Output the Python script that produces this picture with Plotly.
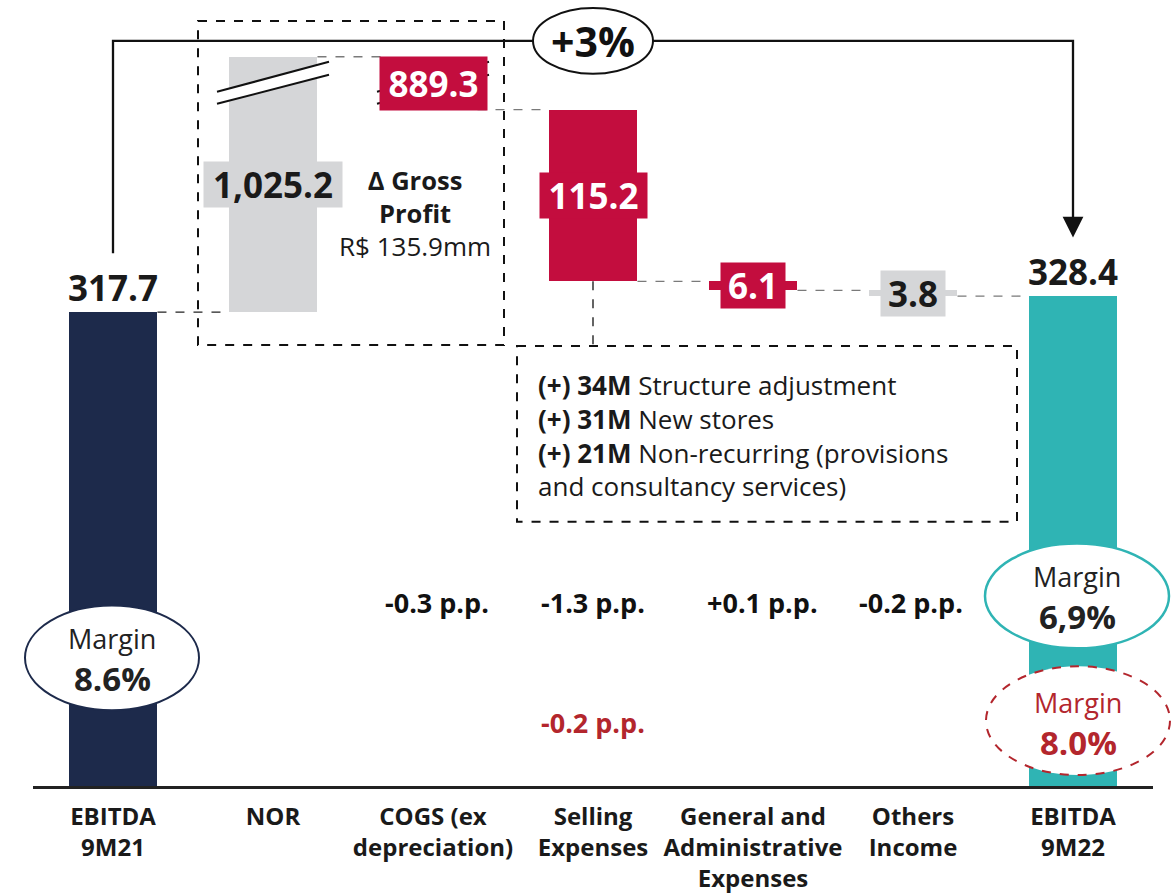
import plotly.graph_objects as go

# ---------------- data ----------------
categories = ["EBITDA<br>9M21", "NOR", "COGS (ex<br>depreciation)", "Selling<br>Expenses",
              "General and<br>Administrative<br>Expenses", "Others<br>Income", "EBITDA<br>9M22"]
ebitda_start = 317.7
ebitda_end = 328.4
step_values = [1025.2, -889.3, -115.2, -6.1, -3.8]          # NOR, COGS, Selling, G&A, Others
step_labels = ["1,025.2", "889.3", "115.2", "6.1", "3.8"]
margin_pp = ["-0.3 p.p.", "-1.3 p.p.", "+0.1 p.p.", "-0.2 p.p."]   # COGS .. Others
margin_pp_adjusted = "-0.2 p.p."
margin_start = "8.6%"
margin_end = "6,9%"
margin_end_adjusted = "8.0%"
growth_label = "+3%"
gross_profit_label = "R$ 135.9mm"
selling_notes = [("(+) 34M", "Structure adjustment"),
                 ("(+) 31M", "New stores"),
                 ("(+) 21M", "Non-recurring (provisions"),
                 ("", "and consultancy services)")]

# ---------------- styling ----------------
NAVY = "#1d2a4b"
TEAL = "#2fb4b4"
RED = "#c30d3e"
GREY = "#d5d6d8"
DARKRED = "#b3262d"
TEXT = "#1a1a1a"
FONT = "Open Sans"

W, H = 1173, 894
ML, MR, MT, MB = 33, 20, 0, 106
PW, PH = W - ML - MR, H - MT - MB
XMIN, XMAX = -0.5, 6.5
PX_PER_UNIT = 1.4951
YMAX = PH / PX_PER_UNIT
BAR_W = 0.556

def px_x(px):
    return XMIN + (px - ML) * (XMAX - XMIN) / PW

def px_y(py):
    return YMAX * (1 - (py - MT) / PH)

def paper_x(px):
    return (px - ML) / PW

def paper_y(py):
    return 1 - (py - MT) / PH

# broken value axis: everything above BREAK_FROM is compressed so the peak lands at BREAK_TOP
levels = [ebitda_start]
for d in step_values:
    levels.append(levels[-1] + d)
peak = max(levels)
BREAK_FROM, BREAK_TOP = 460.0, 489.0

def disp(v):
    if v <= BREAK_FROM:
        return v
    return BREAK_FROM + (v - BREAK_FROM) * (BREAK_TOP - BREAK_FROM) / (peak - BREAK_FROM)

bases, heights = [0.0], [disp(ebitda_start)]
for k in range(len(step_values)):
    lo, hi = sorted((levels[k], levels[k + 1]))
    bases.append(disp(lo))
    heights.append(disp(hi) - disp(lo))
bases.append(0.0)
heights.append(disp(ebitda_end))
colors = [NAVY, GREY, RED, RED, RED, GREY, TEAL]
xs = list(range(len(categories)))

fig = go.Figure(go.Bar(x=xs, y=heights, base=bases, width=BAR_W,
                       marker=dict(color=colors, line=dict(width=0)),
                       hoverinfo="skip"))

shapes, annos = [], []

# connectors between consecutive bars
conn_levels = [ebitda_start] + levels[1:]
for j in range(len(categories) - 1):
    y = disp(conn_levels[j])
    shapes.append(dict(type="line", xref="x", yref="y",
                       x0=j + BAR_W / 2, x1=j + 1 - BAR_W / 2, y0=y, y1=y,
                       line=dict(color="#222" if j == 0 else "#7a7a7a", width=1.3, dash="dash")))

# axis-break marks on NOR and COGS bars
for c in (1, 2):
    xl, xr = c - 0.35, c + 0.35
    shapes.append(dict(type="path", xref="x", yref="y", layer="above",
                       path=f"M{xl},{px_y(92)} L{xr},{px_y(62)} L{xr},{px_y(75)} L{xl},{px_y(104)} Z",
                       fillcolor="white", line=dict(width=0)))
    for a, b in ((92, 62), (104, 75)):
        shapes.append(dict(type="line", xref="x", yref="y", layer="above",
                           x0=xl, y0=px_y(a), x1=xr, y1=px_y(b),
                           line=dict(color="#111", width=2)))

# value labels on the step bars
box_w = [138, 107, 107, 64, 64]
box_h = [45, 53, 45, 45, 45]
box_bg = [GREY, RED, RED, RED, GREY]
box_fg = [TEXT, "white", "white", "white", TEXT]
for k, lab in enumerate(step_labels):
    ymid = bases[k + 1] + heights[k + 1] / 2
    annos.append(dict(x=k + 1, y=ymid, xref="x", yref="y", text=f"<b>{lab}</b>",
                      showarrow=False, width=box_w[k], height=box_h[k], borderpad=0,
                      bgcolor=box_bg[k], font=dict(size=35, color=box_fg[k], family=FONT),
                      align="center", valign="middle"))

# totals above first and last bars
for x, v in ((0, ebitda_start), (len(categories) - 1, ebitda_end)):
    annos.append(dict(x=x, y=disp(v), xref="x", yref="y", text=f"<b>{v:.1f}</b>",
                      showarrow=False, yshift=25, yanchor="middle",
                      font=dict(size=35, color=TEXT, family=FONT)))

# dashed frame around the gross-profit steps
shapes.append(dict(type="rect", xref="x", yref="y",
                   x0=px_x(198), x1=px_x(504), y0=px_y(21), y1=px_y(346),
                   line=dict(color="#111", width=2, dash="dash")))
annos.append(dict(x=px_x(415), y=px_y(214), xref="x", yref="y",
                  text=f"<b>Δ Gross<br>Profit</b><br><span style='font-size:26px'>{gross_profit_label}</span>",
                  showarrow=False, align="center", yanchor="middle",
                  font=dict(size=25.5, color=TEXT, family=FONT)))

# selling expenses breakdown note
shapes.append(dict(type="line", xref="x", yref="y", x0=3, x1=3,
                   y0=disp(levels[3]), y1=px_y(347),
                   line=dict(color="#111", width=1.3, dash="dash")))
shapes.append(dict(type="rect", xref="x", yref="y",
                   x0=px_x(517), x1=px_x(1017), y0=px_y(347), y1=px_y(523),
                   line=dict(color="#111", width=2, dash="dash")))
note_text = "<br>".join((f"<b>{bold}</b> " if bold else "") + rest for bold, rest in selling_notes)
annos.append(dict(x=px_x(536), y=px_y(436.5), xref="x", yref="y", text=note_text,
                  xanchor="left", yanchor="middle", align="left", showarrow=False,
                  font=dict(size=26, color=TEXT, family=FONT)))

# growth bracket with arrow
top_y = px_y(41)
shapes.append(dict(type="path", xref="x", yref="y", layer="above",
                   path=f"M0,{px_y(254)} L0,{top_y} L6,{top_y} L6,{px_y(226)}",
                   line=dict(color="#111", width=2.3)))
annos.append(dict(x=6, y=px_y(238), ax=6, ay=px_y(222), xref="x", yref="y",
                  axref="x", ayref="y", text="", showarrow=True,
                  arrowhead=2, arrowsize=1.8, arrowwidth=2.3, arrowcolor="#111"))
shapes.append(dict(type="circle", xref="x", yref="y", layer="above",
                   x0=3 - 0.375, x1=3 + 0.375, y0=px_y(74), y1=px_y(8),
                   fillcolor="white", line=dict(color="#111", width=2)))
annos.append(dict(x=3, y=top_y, xref="x", yref="y", text=f"<b>{growth_label}</b>",
                  showarrow=False, font=dict(size=41, color="#111", family=FONT)))

# margin change per step
pp_shift = [4, 0, 9, -2]
for k, lab in enumerate(margin_pp):
    annos.append(dict(x=k + 2, y=px_y(604), xref="x", yref="y", text=f"<b>{lab}</b>",
                      xshift=pp_shift[k], showarrow=False,
                      font=dict(size=27, color="#111", family=FONT)))
annos.append(dict(x=3, y=px_y(724), xref="x", yref="y", text=f"<b>{margin_pp_adjusted}</b>",
                  showarrow=False, font=dict(size=27, color=DARKRED, family=FONT)))

# margin bubbles
def bubble(cx_px, y_top, y_bot, half_w_px, color, dash, word_color, value, y_word, width):
    shapes.append(dict(type="circle", xref="paper", yref="paper", layer="above",
                       x0=paper_x(cx_px - half_w_px), x1=paper_x(cx_px + half_w_px),
                       y0=paper_y(y_bot), y1=paper_y(y_top), fillcolor="white",
                       line=dict(color=color, width=width, dash=dash)))
    annos.append(dict(x=paper_x(cx_px), y=paper_y(y_word), xref="paper", yref="paper",
                      xanchor="center", yanchor="middle", text="Margin", showarrow=False,
                      font=dict(size=27, color=word_color, family=FONT)))
    annos.append(dict(x=paper_x(cx_px), y=paper_y(y_word + 40), xref="paper", yref="paper",
                      xanchor="center", yanchor="middle", text=f"<b>{value}</b>",
                      showarrow=False, font=dict(size=33, color=word_color, family=FONT)))

bubble(112, 607, 712, 87, NAVY, "solid", "#222", margin_start, 640, 2)
bubble(1077, 545, 650, 92, TEAL, "solid", "#222", margin_end, 578, 2.5)
bubble(1078, 668, 777, 92, DARKRED, "dash", DARKRED, margin_end_adjusted, 704, 2)

fig.update_layout(
    width=W, height=H, margin=dict(l=ML, r=MR, t=MT, b=MB),
    paper_bgcolor="white", plot_bgcolor="white",
    font=dict(family=FONT, color=TEXT),
    showlegend=False, bargap=0,
    shapes=shapes, annotations=annos,
    xaxis=dict(range=[XMIN, XMAX], tickmode="array", tickvals=xs,
               ticktext=[f"<b>{c}</b>" for c in categories],
               tickfont=dict(size=24, color=TEXT, family=FONT),
               showline=True, linecolor="#222", linewidth=2.5, ticks="",
               ticklabelstandoff=7, showgrid=False, zeroline=False, fixedrange=True),
    yaxis=dict(range=[0, YMAX], visible=False, showgrid=False, zeroline=False, fixedrange=True),
)

fig.write_html("out.html")
